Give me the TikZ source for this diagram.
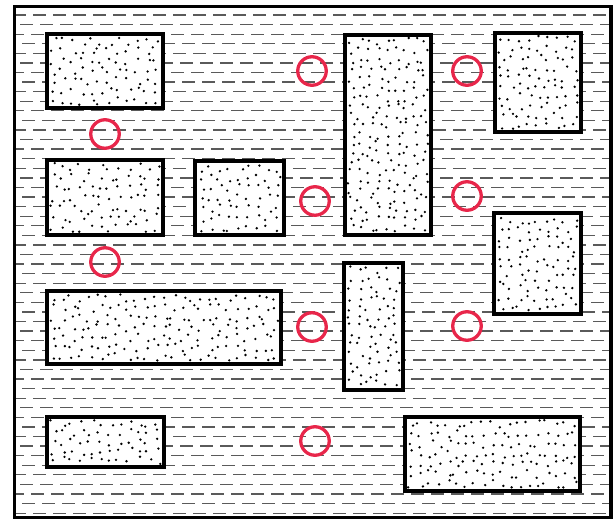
\documentclass[tikz,border=0pt]{standalone}
\definecolor{ringred}{HTML}{E8264A}
\definecolor{hatchgray}{HTML}{5A5A5A}
\tikzset{
  framebox/.style={draw=black, line width=3.8pt, inner sep=0pt, outer sep=0pt, anchor=north west},
  dbox/.style={draw=black, fill=white, line width=4pt, inner sep=0pt, outer sep=0pt},
  ring/.style={circle, draw=ringred, line width=3.3pt, minimum size=28.5pt, inner sep=0pt},
  hatchline/.style={draw=hatchgray, line width=1.3pt, dash pattern=on 13pt off 7pt},
  dotmark/.style={fill=black}
}
\newcommand\dotbox[5]{%
  \node[dbox, anchor=north west, minimum width={#4-#2-4}, minimum height={#5-#3-4}] (#1) at ({#2+2},{#3+2}) {};
  \pgfmathtruncatemacro\dbNx{(#4-#2-8)/9}%
  \pgfmathtruncatemacro\dbNy{(#5-#3-8)/9}%
  \pgfmathsetmacro\dbCw{(#4-#2-8)/\dbNx}%
  \pgfmathsetmacro\dbCh{(#5-#3-8)/\dbNy}%
  \pgfmathtruncatemacro\dbNxm{\dbNx-1}%
  \pgfmathtruncatemacro\dbNym{\dbNy-1}%
  \foreach \i in {0,...,\dbNxm}{\foreach \j in {0,...,\dbNym}{%
    \pgfmathsetmacro\dbPx{#2+4+(\i+0.1+0.8*rnd)*\dbCw}%
    \pgfmathsetmacro\dbPy{#3+4+(\j+0.1+0.8*rnd)*\dbCh}%
    \fill[dotmark] (\dbPx,\dbPy) circle[radius=1.3];
  }}%
}
\begin{document}
\begin{tikzpicture}[x=1pt,y=-1pt]
\pgfmathsetseed{7}
\useasboundingbox (0,0) rectangle (616,524);
% hatching
\begin{scope}
  \clip (15,7) rectangle (610,516);
  \foreach \k in {0,...,52}{
    \pgfmathsetmacro\hy{15+\k*9.58}
    \pgfmathsetmacro\ph{mod(\k,2)*10+mod(\k*3,4)}
    \draw[hatchline, dash phase=\ph] (13,\hy) -- (612,\hy);
  }
\end{scope}
% outer frame
\node[framebox, minimum width=596.5, minimum height=511] (frame) at (14.5,6.5) {};
% dotted boxes
\dotbox{b1}{45}{32}{165}{110}
\dotbox{b2}{45}{158}{165}{237}
\dotbox{b3}{193}{159}{286}{237}
\dotbox{b4}{343}{33}{433}{237}
\dotbox{b5}{493}{31}{583}{134}
\dotbox{b6}{492}{211}{583}{316}
\dotbox{b7}{45}{289}{283}{366}
\dotbox{b8}{342}{261}{405}{392}
\dotbox{b9}{45}{415}{166}{469}
\dotbox{b10}{403}{415}{582}{493}
% red rings
\node[ring] (c1) at (312,71) {};
\node[ring] (c2) at (467,71) {};
\node[ring] (c3) at (105,134) {};
\node[ring] (c4) at (315,201) {};
\node[ring] (c5) at (467,196) {};
\node[ring] (c6) at (105,262) {};
\node[ring] (c7) at (312,327) {};
\node[ring] (c8) at (467,326) {};
\node[ring] (c9) at (315,441) {};
\end{tikzpicture}
\end{document}
